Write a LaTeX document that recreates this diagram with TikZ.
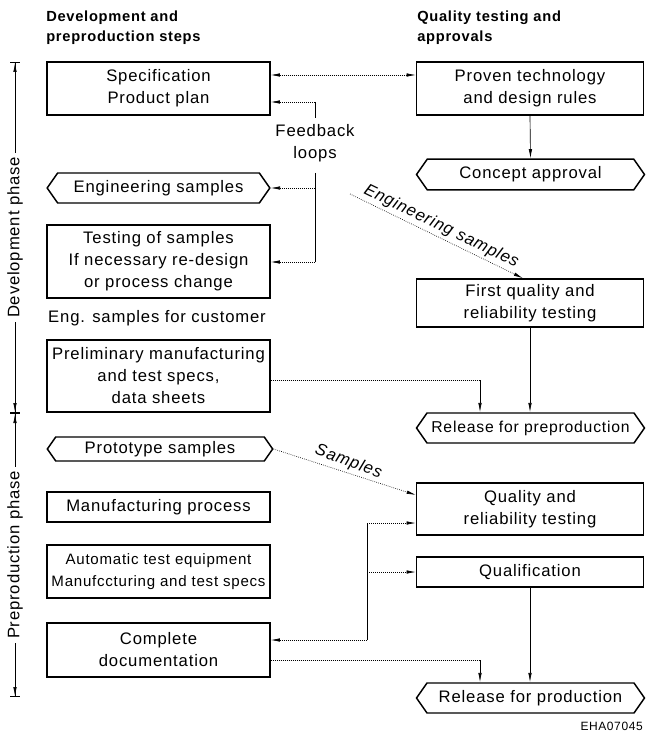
\documentclass[tikz,border=0pt]{standalone}
\usepackage{fontspec}
\setmainfont{Liberation Sans}[LetterSpace=5]
\usepackage{xcolor}
\usetikzlibrary{arrows.meta,shapes.symbols}

\begin{document}
\begin{tikzpicture}[x=0.75pt,y=0.75pt,yscale=-1,xscale=1,
  boxfont/.style={font=\fontsize{12.5}{16.5}\selectfont},
  slantfont/.style={font=\itshape\fontsize{12.5}{16.5}\selectfont},
  stepbox/.style={draw,line width=1.1pt,align=center,inner sep=1pt,boxfont},
  hexbox/.style={stepbox,shape=signal,signal to=west and east,signal pointer angle=110},
  flow/.style={line width=0.5pt,-{Latex[length=7pt,width=2.6pt]}},
  loop/.style={flow,densely dotted},
  fbline/.style={line width=0.4pt},
  phase/.style={line width=0.5pt,{Bar[width=7pt]Latex[length=7pt,width=2.6pt]}-{Latex[length=7pt,width=2.6pt]Bar[width=7pt]}},
  head/.style={anchor=north west,align=left,inner sep=0.75pt,font=\bfseries\fontsize{11}{15}\selectfont}]
\useasboundingbox (0,0) rectangle (647,734);

% Text Node
\node [head] (hleft) at (45,10) {Development and\\preproduction steps};
% Text Node
\node [head] (hright) at (416,10) {Quality testing and\\approvals};

%Shape: Rectangle
\node [stepbox,minimum width=167pt,minimum height=40pt] (spec) at (158.5,88.5) {Specification\\Product plan};
%Shape: Hexagon
\node [hexbox,minimum width=167pt,minimum height=22.5pt] (engs) at (158.5,188) {Engineering samples};
%Shape: Rectangle
\node [stepbox,minimum width=167pt,minimum height=55pt] (testing) at (158.5,261.5) {Testing of samples\\If necessary re-design\\or process change};
% Text Node
\node [boxfont] (cust) at (157,318) {Eng. samples for customer};
%Shape: Rectangle
\node [stepbox,minimum width=167pt,minimum height=54pt] (prelim) at (158.5,376) {Preliminary manufacturing\\and test specs,\\data sheets};
%Shape: Hexagon
\node [hexbox,minimum width=169pt,minimum height=18pt] (proto) at (160,449) {Prototype samples};
%Shape: Rectangle
\node [stepbox,minimum width=167pt,minimum height=22.5pt] (manuf) at (158.5,507) {Manufacturing process};
%Shape: Rectangle
\node [stepbox,minimum width=167pt,minimum height=40pt,inner sep=0.5pt,font=\fontsize{11.3}{16}\selectfont] (ate) at (158.5,571.5) {Automatic test equipment\\Manufccturing and test specs};
%Shape: Rectangle
\node [stepbox,minimum width=167pt,minimum height=40.5pt] (compdoc) at (158.5,650) {Complete\\documentation};

%Shape: Rectangle
\node [stepbox,minimum width=170pt,minimum height=40pt] (proven) at (530,88.5) {Proven technology\\and design rules};
%Shape: Hexagon
\node [hexbox,minimum width=171pt,minimum height=23pt] (concept) at (530.5,174.5) {Concept approval};
%Shape: Rectangle
\node [stepbox,minimum width=170pt,minimum height=36pt] (first) at (530,303) {First quality and\\reliability testing};
%Shape: Hexagon
\node [hexbox,minimum width=171pt,minimum height=22.5pt,inner sep=0pt,font=\fontsize{11.8}{16}\selectfont] (relpre) at (530.5,428) {Release for preproduction};
%Shape: Rectangle
\node [stepbox,minimum width=170pt,minimum height=39pt] (qual) at (530,509) {Quality and\\reliability testing};
%Shape: Rectangle
\node [stepbox,minimum width=170pt,minimum height=22.5pt] (qualif) at (530,572) {Qualification};
%Shape: Hexagon
\node [hexbox,minimum width=171pt,minimum height=22.5pt] (relprod) at (530.5,698) {Release for production};

% Text Node
\node [anchor=east,inner sep=0.75pt,font=\fontsize{9}{10}\selectfont] (code) at (644,726) {EHA07045};

% feedback loops
\coordinate (fbA) at (315,75);
\coordinate (fbB) at (315,102);
\coordinate (fbC) at (315,118);
\coordinate (fbD) at (315,173);
\coordinate (fbE) at (315,188);
\coordinate (fbF) at (315,262);
\draw [loop,{Latex[length=7pt,width=2.6pt]}-{Latex[length=7pt,width=2.6pt]}] (spec.east |- fbA) -- (proven.west |- fbA);
\draw [fbline] (fbB) -- (fbC);
\draw [fbline] (fbD) -- (fbF);
\draw [loop] (fbB) -- (spec.east |- fbB);
\draw [loop] (fbE) -- (engs.east);
\draw [loop] (fbF) -- (testing.east |- fbF);
\node [boxfont,align=center] (fbtext) at (315,143) {Feedback\\loops};

%Straight Lines
\draw [flow] (proven.south) -- (concept.north);
\draw [flow] (first.south) -- (first.south |- relpre.north);
\draw [flow] (qualif.south) -- (qualif.south |- relprod.north);

% engineering samples to first testing
\coordinate (esA) at (350,194);
\coordinate (esB) at (523,279);
\draw [loop] (esA) -- node [midway,anchor=south,rotate=-26,inner sep=2pt,slantfont] (estext) {Engineering samples} (esB |- first.north);

% prototype samples
\coordinate (smp) at (417,495);
\draw [loop] (proto.east) -- node [midway,anchor=south,rotate=-20,inner sep=2pt,slantfont] (smptext) {Samples} (qual.west |- smp);

% specs to release
\coordinate (pre1) at (480,380);
\draw [densely dotted,line width=0.5pt] (prelim.east |- pre1) -- (pre1);
\draw [flow] (pre1) -- (pre1 |- relpre.north);

% documentation loop
\coordinate (qa) at (367,523);
\coordinate (qc) at (367,640);
\draw [fbline] (qa) -- (qc);
\draw [loop] (qa) -- (qual.west |- qa);
\draw [loop] (qa |- qualif.west) -- (qualif.west);
\draw [loop] (qc) -- (compdoc.east |- qc);

\coordinate (cd1) at (480,660);
\draw [densely dotted,line width=0.5pt] (compdoc.east |- cd1) -- (cd1);
\draw [flow] (cd1) -- (cd1 |- relprod.north);

% phase axis
\coordinate (devtop) at (15,62);
\coordinate (devbot) at (15,413);
\coordinate (prebot) at (15,697);
\draw [phase] (devtop) -- (devbot) node [midway,rotate=90,fill=white,boxfont] (devtext) {Development phase};
\draw [phase] (devbot) -- (prebot) node [midway,rotate=90,fill=white,boxfont] (pretext) {Preproduction phase};

\end{tikzpicture}
\end{document}
